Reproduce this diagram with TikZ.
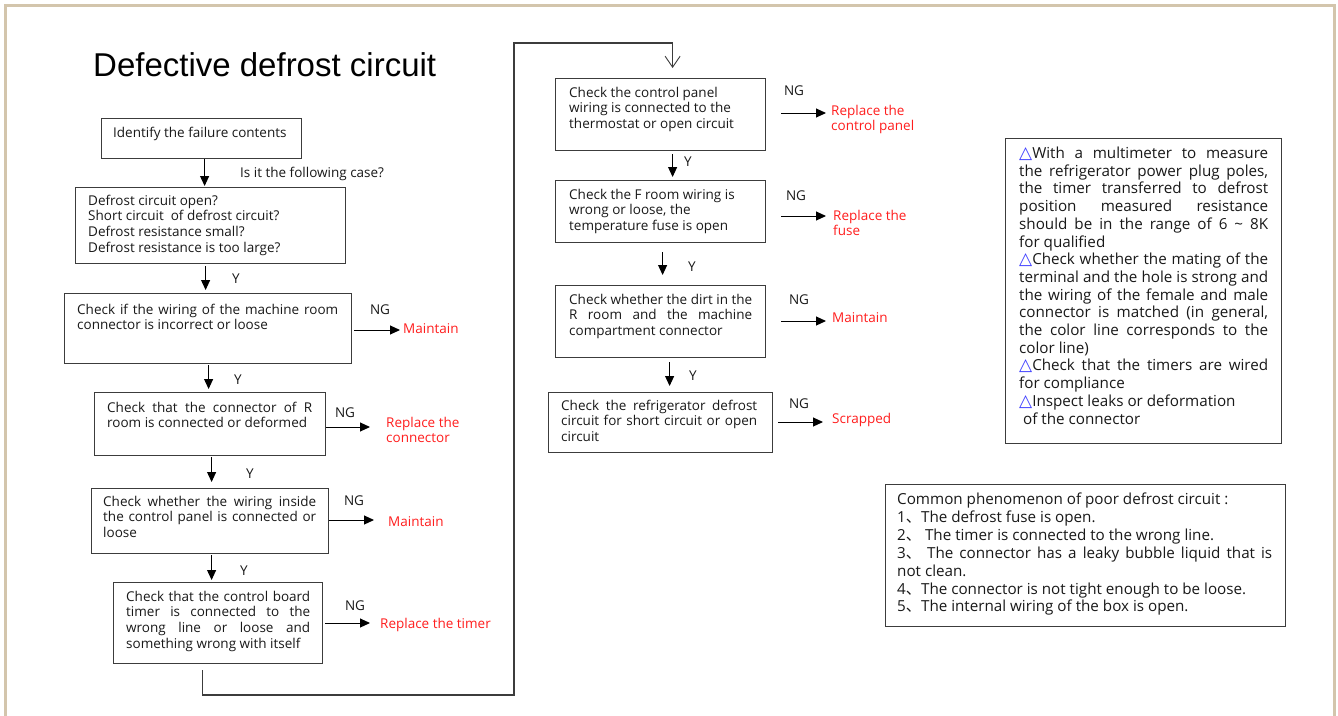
\documentclass[tikz,border=0pt]{standalone}
\usepackage{fontspec}
\setmainfont{Open Sans}
\newfontfamily\titlefont{Liberation Sans}
\newfontfamily\cjkfont{Noto Sans CJK SC}
\newfontfamily\symfont{DejaVu Sans}
\usetikzlibrary{arrows.meta,calc}
\definecolor{framec}{RGB}{211,197,172}
\definecolor{boxc}{RGB}{60,60,60}
\definecolor{txtc}{RGB}{25,25,25}
\definecolor{ngred}{RGB}{255,30,30}
\definecolor{tric}{RGB}{60,60,255}
\definecolor{loopc}{RGB}{60,60,60}
\newcommand\jl[2]{\makebox[#1pt][s]{#2}}
\newcommand\dun{{\cjkfont 、}}
\newcommand\tri{{\color{tric}\fontsize{17}{17.7}\symfont △}}
\newcommand\bodyfont{\fontsize{13.5}{15.7}\selectfont}
\newcommand\notefont{\fontsize{15.2}{17.7}\selectfont}
\newcommand\notefontb{\fontsize{15.2}{17.9}\selectfont}
\newcommand\ngarr[5]{%
  \path ([xshift=#2pt]#1.east) coordinate (#1s);
  \path ([xshift=#4pt,yshift=#5pt]#3.base west) coordinate (#3e);
  \draw[arr] (#1s |- #3e) -- (#3e);}
\newcommand\yarr[5]{%
  \path ([xshift=#3pt,yshift=-#4pt]#1.south) coordinate (#1d);
  \path (#1d |- #2.north) coordinate (#1u);
  \draw[arr] (#1d) -- ([yshift=#5pt]#1u);}
\begin{document}
\begin{tikzpicture}[x=1pt,y=-1pt,
  box/.style={draw=boxc, line width=1.2pt, inner sep=0pt, anchor=north west},
  txt/.style={anchor=base west, inner sep=0pt, align=left, font=\bodyfont, text=txtc},
  note/.style={anchor=base west, inner sep=0pt, align=left, font=\notefont, text=txtc},
  res/.style={anchor=base west, inner sep=0pt, align=left, font=\bodyfont, text=ngred},
  lbl/.style={inner sep=0pt, font=\bodyfont, text=txtc},
  arr/.style={draw=black, line width=1pt, -{Triangle[length=10pt,width=9pt]}},
  loopline/.style={draw=loopc, line width=1.1pt, -{Straight Barb[length=11pt,width=15pt,line width=0.9pt]}}]
\useasboundingbox (0,0) rectangle (1338,715);
\fill[white] (0,0) rectangle (1338,715);
\draw[framec, line width=3.5pt] (5.5,5.5) rectangle (1334.5,760);

\node[anchor=base west, inner sep=0pt, font=\titlefont\fontsize{33}{36}\selectfont, text=black] (title) at (93,76) {Defective defrost circuit};

% boxes
\node[box, minimum width=200pt, minimum height=40pt] (b1) at (101,118) {};
\node[box, minimum width=270pt, minimum height=76pt] (b2) at (75,187) {};
\node[box, minimum width=287pt, minimum height=70pt] (b3) at (64,293) {};
\node[box, minimum width=231pt, minimum height=63pt] (b4) at (94,392) {};
\node[box, minimum width=237pt, minimum height=65pt] (b5) at (91,488) {};
\node[box, minimum width=209pt, minimum height=81pt] (b6) at (113,582) {};
\node[box, minimum width=210pt, minimum height=72pt] (b7) at (555,78) {};
\node[box, minimum width=210pt, minimum height=62pt] (b8) at (555,180) {};
\node[box, minimum width=210pt, minimum height=72pt] (b9) at (555,285) {};
\node[box, minimum width=224pt, minimum height=60pt] (b10) at (548,392) {};
\node[box, minimum width=276pt, minimum height=305pt] (b11) at (1005,138) {};
\node[box, minimum width=400pt, minimum height=142pt] (b12) at (885,484) {};

% box texts (anchored at the baseline of the last line)
\node[txt] (t1) at (113,137) {Identify the failure contents};
\node[txt] (t2) at (88,252.1) {Defrost circuit open?\\Short circuit\ \ of defrost circuit?\\Defrost resistance small?\\Defrost resistance is too large?};
\node[txt] (t3) at (77,329.7) {\jl{261}{Check if the wiring of the machine room}\\connector is incorrect or loose};
\node[txt] (t4) at (107,427.7) {\jl{205}{Check that the connector of R}\\room is connected or deformed};
\node[txt] (t5) at (103,537.4) {\jl{213}{Check whether the wiring inside}\\\jl{213}{the control panel is connected or}\\loose};
\node[txt] (t6) at (126,648.1) {\jl{184}{Check that the control board}\\\jl{184}{timer is connected to the}\\\jl{184}{wrong line or loose and}\\something wrong with itself};
\node[txt] (t7) at (569,128.4) {Check the control panel\\wiring is connected to the\\thermostat or open circuit};
\node[txt] (t8) at (569,230.4) {Check the F room wiring is\\wrong or loose, the\\temperature fuse is open};
\node[txt] (t9) at (569,335.4) {\jl{183}{Check whether the dirt in the}\\\jl{183}{R room and the machine}\\compartment connector};
\node[txt] (t10) at (561,441.4) {\jl{196}{Check the refrigerator defrost}\\\jl{196}{circuit for short circuit or open}\\circuit};
\node[note] (t11) at (1019,424) {\jl{249}{\tri With a multimeter to measure}\\
\jl{249}{the refrigerator power plug poles,}\\
\jl{249}{the timer transferred to defrost}\\
\jl{249}{position measured resistance}\\
\jl{249}{should be in the range of 6 \textasciitilde\ 8K}\\
for qualified\\
\jl{249}{\tri Check whether the mating of the}\\
\jl{249}{terminal and the hole is strong and}\\
\jl{249}{the wiring of the female and male}\\
\jl{249}{connector is matched (in general,}\\
\jl{249}{the color line corresponds to the}\\
color line)\\
\jl{249}{\tri Check that the timers are wired}\\
for compliance\\
\tri Inspect leaks or deformation\\
\hspace*{4pt}of the connector};
\node[note, font=\notefontb] (t12) at (897,611.9) {Common phenomenon of poor defrost circuit :\\
1\dun The defrost fuse is open.\\
2\dun\ The timer is connected to the wrong line.\\
\jl{375}{3\dun\ The connector has a leaky bubble liquid that is}\\
not clean.\\
4\dun The connector is not tight enough to be loose.\\
5\dun The internal wiring of the box is open.};

% labels
\node[txt] (q1) at (240,177) {Is it the following case?};
\node[lbl] (y2) at (236,279) {Y};
\node[lbl] (y3) at (238,380) {Y};
\node[lbl] (y4) at (250,474) {Y};
\node[lbl] (y5) at (244,571) {Y};
\node[lbl] (y7) at (688,162) {Y};
\node[lbl] (y8) at (692,267) {Y};
\node[lbl] (y9) at (693,376) {Y};
\node[lbl] (n3) at (380,310) {NG};
\node[lbl] (n4) at (345,413) {NG};
\node[lbl] (n5) at (354,501) {NG};
\node[lbl] (n6) at (355,606) {NG};
\node[lbl] (n7) at (794,91) {NG};
\node[lbl] (n8) at (796,196) {NG};
\node[lbl] (n9) at (799,300) {NG};
\node[lbl] (n10) at (799,404) {NG};

% results (anchored at the baseline of the last line)
\node[res] (r3) at (403,333) {Maintain};
\node[res] (r4) at (386,442.7) {Replace the\\connector};
\node[res] (r5) at (388,526) {Maintain};
\node[res] (r6) at (380,628) {Replace the timer};
\node[res] (r7) at (831,130.7) {Replace the\\control panel};
\node[res] (r8) at (833,235.7) {Replace the\\fuse};
\node[res] (r9) at (832,322) {Maintain};
\node[res] (r10) at (832,423) {Scrapped};

% vertical arrows
\yarr{b1}{b2}{3}{0}{1}
\yarr{b2}{b3}{-5}{2}{3}
\yarr{b3}{b4}{0.5}{1}{3}
\yarr{b4}{b5}{1.5}{1}{6}
\yarr{b5}{b6}{1.5}{1}{2}
\yarr{b7}{b8}{12}{3}{3}
\yarr{b8}{b9}{2}{9}{10}
\yarr{b9}{b10}{9}{4}{6}

% NG arrows
\ngarr{b3}{2}{r3}{-3}{3}
\ngarr{b4}{0}{r4}{-16}{15.7}
\ngarr{b5}{0}{r5}{-14}{6}
\ngarr{b6}{2}{r6}{-10}{5}
\ngarr{b7}{15}{r7}{-5}{17.7}
\ngarr{b8}{15}{r8}{-7}{19.7}
\ngarr{b9}{15}{r9}{-6}{1}
\ngarr{b10}{5}{r10}{-9}{1}

% loop connector
\path ([xshift=-15.5pt,yshift=-6pt]b6.south) coordinate (ls);
\coordinate (lp1) at (514,695);
\coordinate (lp2) at (514,43);
\path ([xshift=12pt,yshift=10pt]b7.north) coordinate (le);
\draw[loopline] (ls) |- (lp1) -- (lp2) -| (le);
\end{tikzpicture}
\end{document}
